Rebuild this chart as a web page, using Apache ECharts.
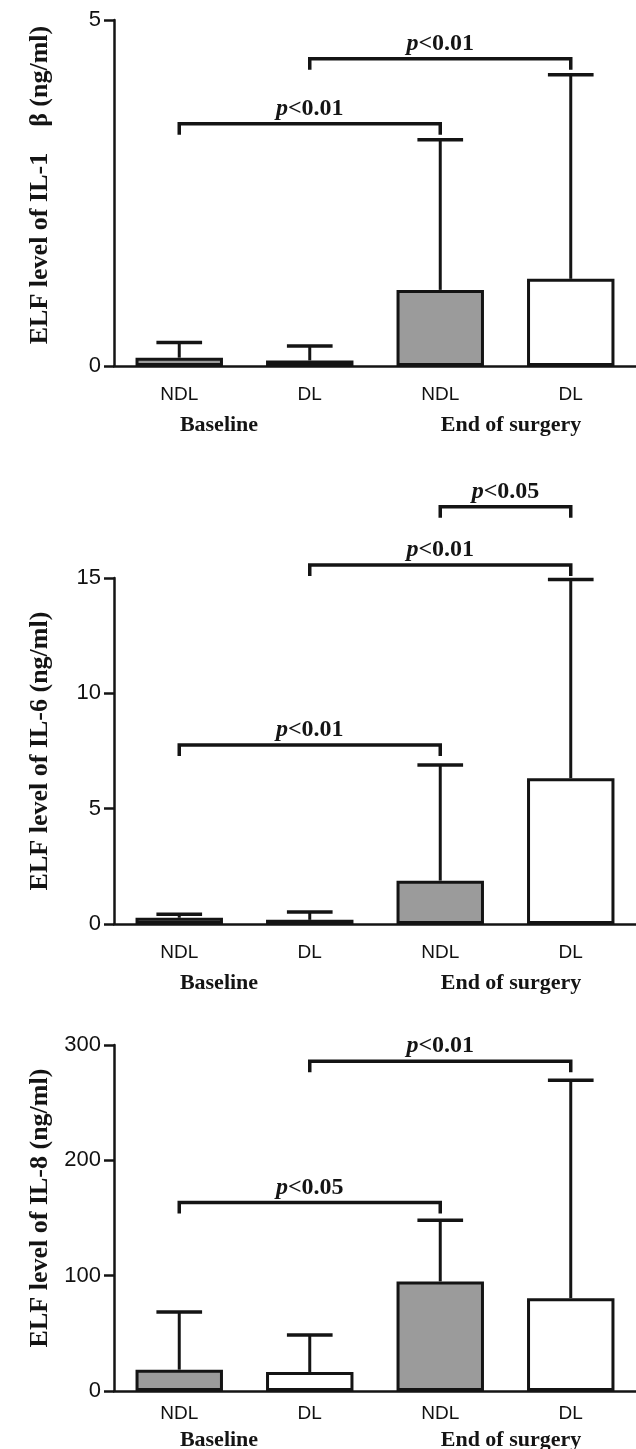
<!DOCTYPE html>
<html>
<head>
<meta charset="utf-8">
<script src="https://cdn.jsdelivr.net/npm/echarts@6/dist/echarts.min.js"></script>
<style>
html,body{margin:0;padding:0;background:#fff;}
#main{width:636px;height:1449px;}
</style>
</head>
<body>
<div id="main"></div>
<script>
// ---- data ----
const categories = ['NDL', 'DL', 'NDL', 'DL'];
const groupLabels = ['Baseline', 'End of surgery'];
const axisTitles = ['ELF level of IL-1\u2003β (ng/ml)', 'ELF level of IL-6 (ng/ml)', 'ELF level of IL-8 (ng/ml)'];

const il1bMean  = [0.12, 0.08, 1.10, 1.26];
const il1bUpper = [0.34, 0.29, 3.27, 4.21];
const il6Mean   = [0.27, 0.18, 1.88, 6.32];
const il6Upper  = [0.42, 0.52, 6.89, 14.94];
const il8Mean   = [18.5, 16.5, 95, 80.5];
const il8Upper  = [68.5, 48.5, 148, 269.5];

const il1bTicks = [0, 5];
const il6Ticks  = [0, 5, 10, 15];
const il8Ticks  = [0, 100, 200, 300];

// brackets: [fromCategory, toCategory, level, p-text]
const il1bBrackets = [[0, 2, 3.50, '<0.01'], [1, 3, 4.44, '<0.01']];
const il6Brackets  = [[0, 2, 7.76, '<0.01'], [1, 3, 15.56, '<0.01'], [2, 3, 18.09, '<0.05']];
const il8Brackets  = [[0, 2, 163.5, '<0.05'], [1, 3, 286, '<0.01']];

// ---- chart ----
const panels = [
  {mean: il1bMean, upper: il1bUpper, ticks: il1bTicks, brackets: il1bBrackets, top: 20, labelMargin: 19, groupY: 425},
  {mean: il6Mean, upper: il6Upper, ticks: il6Ticks, brackets: il6Brackets, top: 578, labelMargin: 19, groupY: 983},
  {mean: il8Mean, upper: il8Upper, ticks: il8Ticks, brackets: il8Brackets, top: 1045, labelMargin: 13, groupY: 1440}
];
const GRID_H = 346, GRID_L = 114, GRID_W = 522;
const INK = '#141414';
const SERIF = '"Liberation Serif", "Times New Roman", serif';
const SANS = '"Liberation Sans", Arial, sans-serif';

const chart = echarts.init(document.getElementById('main'), null, {renderer: 'canvas'});

const grid = [], xAxis = [], yAxis = [], series = [], graphic = [];

panels.forEach((p, k) => {
  grid.push({left: GRID_L, top: p.top, width: GRID_W, height: GRID_H, containLabel: false});
  xAxis.push({
    type: 'category', gridIndex: k, data: categories,
    axisLine: {lineStyle: {color: INK, width: 2.5}},
    axisTick: {alignWithLabel: true, length: 9, lineStyle: {color: INK, width: 2.5}},
    axisLabel: {color: '#111', fontSize: 19, fontFamily: SANS, margin: p.labelMargin},
    splitLine: {show: false}
  });
  const tk = p.ticks;
  yAxis.push({
    type: 'value', gridIndex: k, min: tk[0], max: tk[tk.length - 1], interval: tk[1] - tk[0],
    axisLine: {show: true, lineStyle: {color: INK, width: 2.5}},
    axisTick: {show: true, length: 10, lineStyle: {color: INK, width: 2.5}},
    axisLabel: {color: '#111', fontSize: 22, fontFamily: SANS, margin: 13},
    splitLine: {show: false}
  });
  // bars
  series.push({
    type: 'bar', xAxisIndex: k, yAxisIndex: k, barWidth: '67%', z: 3,
    data: p.mean.map((v, i) => ({
      value: v,
      itemStyle: {color: i % 2 === 0 ? '#9b9b9b' : '#ffffff', borderColor: INK, borderWidth: 3}
    }))
  });
  // error bars (upper only)
  series.push({
    type: 'custom', xAxisIndex: k, yAxisIndex: k, z: 2,
    encode: {x: 0, y: [1, 2]},
    data: p.mean.map((v, i) => [i, v, p.upper[i]]),
    renderItem: function (params, api) {
      const i = api.value(0);
      const top = api.coord([i, api.value(2)]);
      const base = api.coord([i, api.value(1)]);
      const half = api.size([1, 0])[0] * 0.175;
      return {type: 'group', children: [
        {type: 'line', shape: {x1: top[0], y1: base[1], x2: top[0], y2: top[1]}, style: {stroke: INK, lineWidth: 3}},
        {type: 'line', shape: {x1: top[0] - half, y1: top[1], x2: top[0] + half, y2: top[1]}, style: {stroke: INK, lineWidth: 3.5}}
      ]};
    }
  });
  // significance brackets
  const br = p.brackets;
  series.push({
    type: 'custom', xAxisIndex: k, yAxisIndex: k, z: 4, clip: false,
    encode: {x: [0, 1], y: 2},
    data: br.map(b => [b[0], b[1], b[2]]),
    renderItem: function (params, api) {
      const a = api.coord([api.value(0), api.value(2)]);
      const b = api.coord([api.value(1), api.value(2)]);
      const leg = 11;
      const txt = br[params.dataIndex][3];
      return {type: 'group', children: [
        {type: 'polyline', shape: {points: [[a[0], a[1] + leg], [a[0], a[1]], [b[0], b[1]], [b[0], b[1] + leg]]},
          style: {stroke: INK, lineWidth: 3.5, fill: null, lineJoin: 'miter'}},
        {type: 'text', x: (a[0] + b[0]) / 2, y: a[1] - 3,
          style: {
            text: '{i|p}{n|' + txt + '}',
            align: 'center', verticalAlign: 'bottom',
            rich: {
              i: {fontFamily: SERIF, fontStyle: 'italic', fontWeight: 'bold', fontSize: 24, fill: INK},
              n: {fontFamily: SERIF, fontWeight: 'bold', fontSize: 24, fill: INK}
            }
          }}
      ]};
    }
  });
  // axis title
  graphic.push({
    type: 'text', x: 40, y: p.top + GRID_H / 2 - (k === 0 ? 8 : 0) - (k === 2 ? 10 : 0), rotation: Math.PI / 2,
    style: {text: axisTitles[k], font: 'bold 26px ' + SERIF, fill: INK, align: 'center', verticalAlign: 'middle'}
  });
  // group labels
  graphic.push({
    type: 'text', x: 219, y: p.groupY,
    style: {text: groupLabels[0], font: 'bold 22px ' + SERIF, fill: INK, align: 'center', verticalAlign: 'middle'}
  });
  graphic.push({
    type: 'text', x: 511, y: p.groupY,
    style: {text: groupLabels[1], font: 'bold 22px ' + SERIF, fill: INK, align: 'center', verticalAlign: 'middle'}
  });
});

chart.setOption({
  animation: false,
  backgroundColor: '#ffffff',
  grid: grid, xAxis: xAxis, yAxis: yAxis, series: series, graphic: graphic
});
</script>
</body>
</html>
